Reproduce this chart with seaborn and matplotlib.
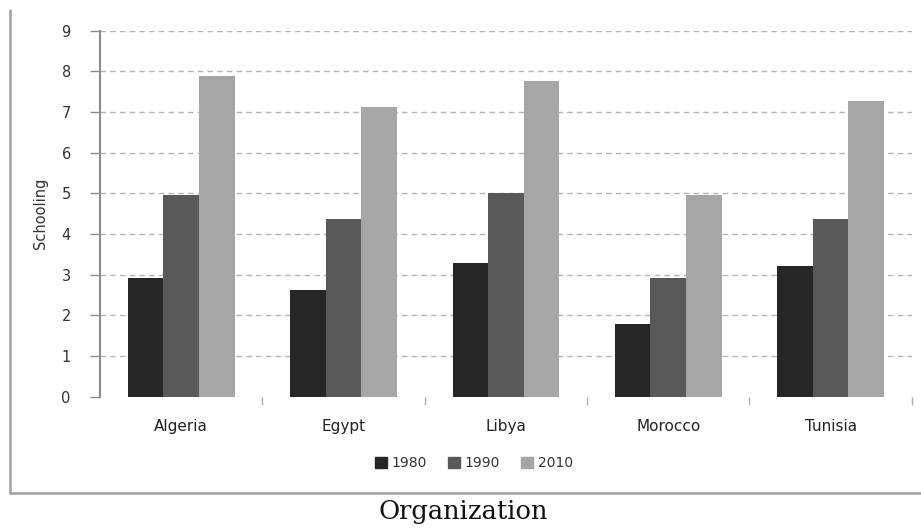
import matplotlib
matplotlib.use("Agg")
import matplotlib.pyplot as plt
from matplotlib.lines import Line2D
import numpy as np
import pandas as pd
import seaborn as sns

# Average years of schooling by country and year
countries = ["Algeria", "Egypt", "Libya", "Morocco", "Tunisia"]
years = ["1980", "1990", "2010"]
schooling_1980 = [2.93, 2.62, 3.28, 1.79, 3.22]
schooling_1990 = [4.97, 4.36, 5.00, 2.93, 4.36]
schooling_2010 = [7.88, 7.13, 7.77, 4.97, 7.27]
y_ticks = [0, 1, 2, 3, 4, 5, 6, 7, 8, 9]
bar_colors = ["#262626", "#595959", "#a6a6a6"]

df = pd.DataFrame({
    "Country": countries * 3,
    "Year": [years[0]] * 5 + [years[1]] * 5 + [years[2]] * 5,
    "Schooling": schooling_1980 + schooling_1990 + schooling_2010,
})

sns.set_theme(style="white")
plt.rcParams["font.family"] = ["DejaVu Sans"]

fig = plt.figure(figsize=(9.21, 5.32), dpi=100)
ax = fig.add_axes([0.1086, 0.2543, 0.8814, 0.688])

sns.barplot(data=df, x="Country", y="Schooling", hue="Year",
            palette=bar_colors, width=0.657, gap=0, saturation=1,
            edgecolor="none", linewidth=0, errorbar=None, legend=False,
            ax=ax, zorder=3)

ax.set_xlim(-0.5, len(countries) - 0.5)
ax.set_ylim(0, 9)
ax.set_yticks(y_ticks)
ax.set_yticklabels([str(t) for t in y_ticks], fontsize=10.5, color="#333333")
ax.tick_params(axis="y", direction="out", length=7, width=1, color="#8c8c8c",
               pad=14, left=True)
ax.tick_params(axis="x", which="major", length=0, pad=16, labelsize=11,
               labelcolor="#222222")
ax.set_xticks(np.arange(len(countries)) + 0.5, minor=True)
ax.tick_params(axis="x", which="minor", direction="out", length=6, width=1,
               color="#b0b0b0", bottom=True)

ax.yaxis.grid(True, linestyle=(0, (4, 3)), color="#b4b4b4", linewidth=1, zorder=0)
ax.xaxis.grid(False)
ax.set_axisbelow(True)
ax.get_ygridlines()[0].set_visible(False)

for side in ["top", "right", "bottom"]:
    ax.spines[side].set_visible(False)
ax.spines["left"].set_color("#8c8c8c")
ax.spines["left"].set_linewidth(1.5)

ax.set_xlabel("")
ax.set_ylabel("Schooling", fontsize=10.5, color="#333333", labelpad=10)

# Legend below the plot
handles = [plt.Rectangle((0, 0), 1, 1, color=c) for c in bar_colors]
fig.legend(handles, years, loc="center", bbox_to_anchor=(474 / 921, 1 - 463 / 532),
           ncol=3, frameon=False, fontsize=10, handlelength=0.85,
           handleheight=0.85, handletextpad=0.35, columnspacing=1.5,
           labelcolor="#333333")

# Outer chart frame (left and bottom edges)
W, H = 921, 532
fig.add_artist(Line2D([10 / W, 10 / W], [1 - 10 / H, 1 - 493 / H],
                      color="#a0a0a0", linewidth=1.8, transform=fig.transFigure))
fig.add_artist(Line2D([10 / W, 1.0], [1 - 493 / H, 1 - 493 / H],
                      color="#a0a0a0", linewidth=1.8, transform=fig.transFigure))

fig.text(463 / W, 1 - 511 / H, "Organization", ha="center", va="center",
         fontsize=18.5, family="DejaVu Serif", color="#111111")

fig.savefig("out.png", dpi=100, facecolor="white")
